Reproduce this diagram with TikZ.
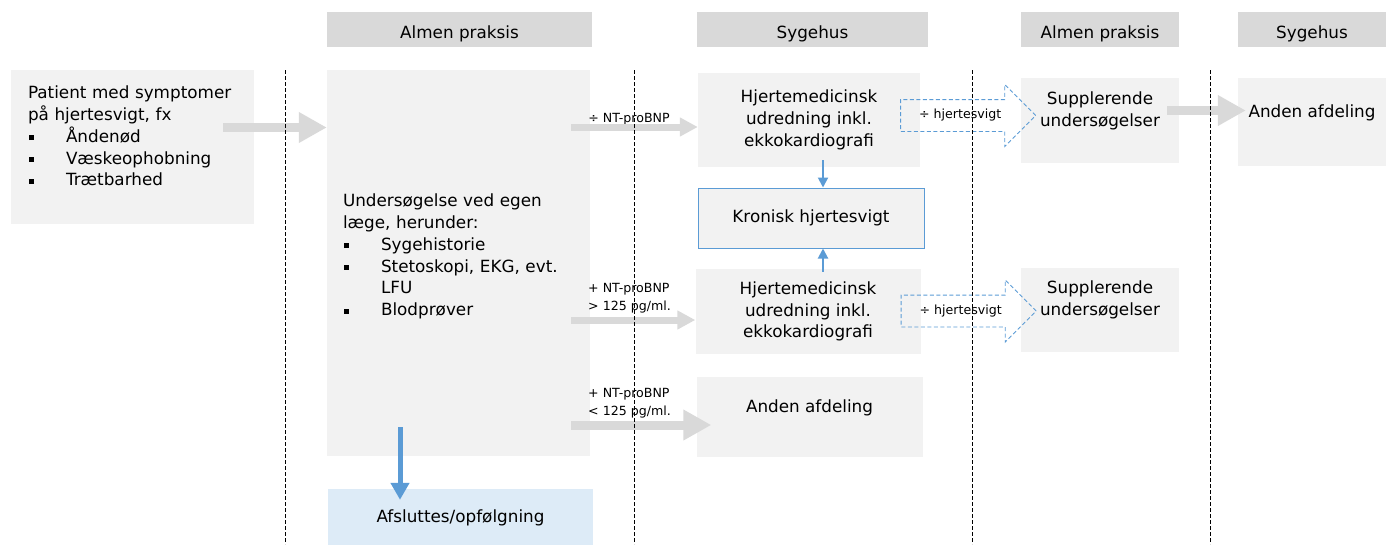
\documentclass[tikz,border=0pt]{standalone}
\usepackage{fontspec}
\setmainfont{DejaVu Sans}
\usetikzlibrary{arrows.meta,shapes.arrows}

\definecolor{hdrgray}{HTML}{D9D9D9}
\definecolor{boxgray}{HTML}{F2F2F2}
\definecolor{arrgray}{HTML}{D9D9D9}
\definecolor{hfblue}{HTML}{5B9BD5}
\definecolor{lightblue}{HTML}{DDEBF7}

\newcommand{\bodysize}{\fontsize{16.8}{21.8}\selectfont}
\newcommand{\labelsize}{\fontsize{12.6}{18}\selectfont}
\newcommand{\sqbullet}{\makebox[38pt][l]{\hspace{0.5pt}\rule[2.2pt]{5pt}{5pt}}}

\begin{document}
\begin{tikzpicture}[
x=1pt, y=-1pt,
every node/.style={font=\bodysize, inner sep=0pt},
header/.style={fill=hdrgray, minimum height=35pt, text height=17pt, text depth=0pt},
box/.style={fill=boxgray},
lane/.style={draw=black, line width=0.8pt, dash pattern=on 3.5pt off 2.5pt},
bigarrow/.style={draw=arrgray, line width=9pt, -{Triangle[width=29pt,length=28pt]}},
smallarrow/.style={draw=arrgray, line width=7pt, -{Triangle[width=18pt,length=18pt]}},
bluearrow/.style={draw=hfblue, line width=2pt, -{Triangle[width=10pt,length=10pt]}},
thickblue/.style={draw=hfblue, line width=5pt, -{Triangle[width=18pt,length=17pt]}},
noarrow/.style={single arrow, draw=hfblue, line width=0.9pt, dash pattern=on 4pt off 2.5pt,
  single arrow head extend=15pt, minimum height=135pt, text height=9pt, text depth=3pt,
  inner xsep=4pt, inner ysep=9.5pt, font=\labelsize},
note/.style={font=\labelsize, align=left}
]
\useasboundingbox (0,0) rectangle (1386,544);

% column headers
\node[header, minimum width=265pt] (hA1) at (459.5,29.5) {Almen praksis};
\node[header, minimum width=231pt] (hS1) at (812.5,29.5) {Sygehus};
\node[header, minimum width=158pt] (hA2) at (1100,29.5) {Almen praksis};
\node[header, minimum width=148pt] (hS2) at (1312,29.5) {Sygehus};

% boxes
\node[box, minimum width=243pt, minimum height=154pt] (patient) at (132.5,147) {};
\node[anchor=north west, text width=215pt, align=left] (patienttxt)
  at ([shift={(17,16)}]patient.north west)
  {Patient med symptomer\\på hjertesvigt, fx\\\sqbullet Åndenød\\\sqbullet Væskeophobning\\\sqbullet Trætbarhed};

\node[box, minimum width=263pt, minimum height=386pt] (unders) at (458.5,263) {};
\node[anchor=north west, text width=240pt, align=left] (understxt)
  at ([shift={(16,124)}]unders.north west)
  {Undersøgelse ved egen\\læge, herunder:\\\sqbullet Sygehistorie\\\sqbullet Stetoskopi, EKG, evt.\\\hspace*{38pt}LFU\\\sqbullet Blodprøver};

\node[box, align=center, minimum width=222pt, minimum height=94pt] (hjm1) at (809,120)
  {Hjertemedicinsk\\udredning inkl.\\ekkokardiografi};
\node[box, draw=hfblue, line width=1pt, minimum width=226pt, minimum height=60pt] (kron) at (811,218)
  {Kronisk hjertesvigt};
\node[box, align=center, minimum width=225pt, minimum height=85pt] (hjm2) at (808,311.5)
  {Hjertemedicinsk\\udredning inkl.\\ekkokardiografi};
\node[box, minimum width=226pt, minimum height=80pt] (anden1) at (809.5,417) {};
\node (anden1txt) at ([shift={(0,-9)}]anden1.center) {Anden afdeling};

\node[box, minimum width=158pt, minimum height=85pt] (sup1) at (1100,120.5) {};
\node[align=center] (sup1txt) at ([shift={(0,-10)}]sup1.center) {Supplerende\\undersøgelser};
\node[box, minimum width=158pt, minimum height=84pt] (sup2) at (1100,310) {};
\node[align=center] (sup2txt) at ([shift={(0,-10)}]sup2.center) {Supplerende\\undersøgelser};
\node[box, minimum width=148pt, minimum height=88pt] (anden2) at (1312,122) {};
\node (anden2txt) at ([shift={(0,-9)}]anden2.center) {Anden afdeling};

\node[fill=lightblue, minimum width=265pt, minimum height=58pt] (afsl) at (460.5,518) {Afsluttes/opfølgning};

% arrow labels
\node[note] (lblneg) at (629,119) {÷ NT-proBNP};
\node[note, anchor=west] (lblhigh) at (588,298) {+ NT-proBNP\\> 125 pg/ml.};
\node[note, anchor=west] (lbllow) at (588,403.5) {+ NT-proBNP\\< 125 pg/ml.};

% gray arrows
\coordinate (p0) at ([shift={(-31,-19.5)}]patient.east);
\draw[bigarrow] (p0) -- (p0 -| unders.west);
\coordinate (p1) at ([shift={(-19,-136)}]unders.east);
\draw[smallarrow] (p1) -- (p1 -| hjm1.west);
\coordinate (p2) at ([shift={(-19,57)}]unders.east);
\draw[smallarrow] (p2) -- (p2 -| hjm2.west);
\coordinate (p3) at ([shift={(-19,162)}]unders.east);
\coordinate (e3) at (p3 -| anden1.west);
\draw[bigarrow] (p3) -- ([shift={(15,0)}]e3);
\coordinate (p4) at ([shift={(-12,-10)}]sup1.east);
\coordinate (e4) at (p4 -| anden2.west);
\draw[bigarrow] (p4) -- ([shift={(8,0)}]e4);

% blue arrows
\coordinate (k1) at ([shift={(12,0)}]kron.north);
\coordinate (h1) at (k1 |- hjm1.south);
\draw[bluearrow] ([shift={(0,-7)}]h1) -- (k1);
\coordinate (k2) at ([shift={(12,0)}]kron.south);
\coordinate (h2) at (k2 |- hjm2.north);
\draw[bluearrow] ([shift={(0,3)}]h2) -- (k2);
\coordinate (u3) at ([shift={(-58.5,-29)}]unders.south);
\coordinate (a3) at (u3 |- afsl.north);
\draw[thickblue] (u3) -- ([shift={(0,11)}]a3);

% dashed block arrows
\node[noarrow, anchor=tail] (nohf1) at ([shift={(-20,-4.5)}]hjm1.east) {÷ hjertesvigt};
\node[noarrow, anchor=tail] (nohf2) at ([shift={(-20,-0.5)}]hjm2.east) {÷ hjertesvigt};

% lanes
\foreach \lx in {285,634,972,1210}
  \draw[lane] (\lx,70) -- (\lx,544);

\end{tikzpicture}
\end{document}
